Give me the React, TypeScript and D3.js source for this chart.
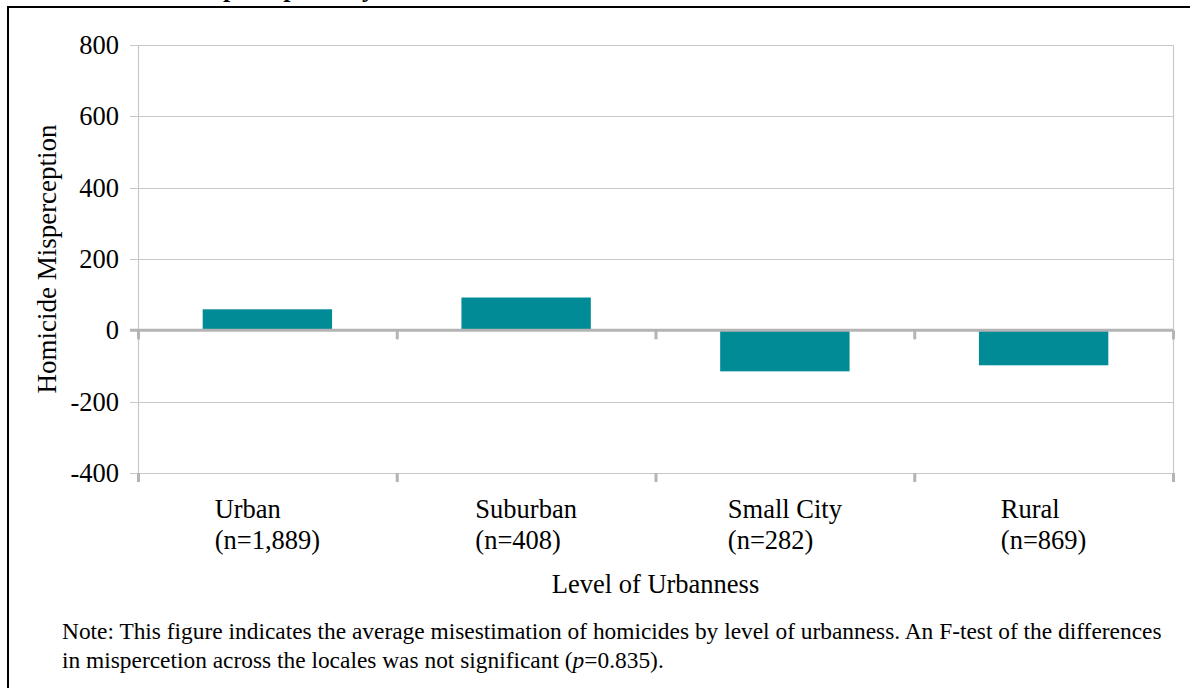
import { useEffect, useRef } from 'react'
import * as d3 from 'd3'

const categories = ['Urban', 'Suburban', 'Small City', 'Rural']
const sampleSizes = ['(n=1,889)', '(n=408)', '(n=282)', '(n=869)']
const misperception = [59, 92, -115, -98]
const yTicks = [-400, -200, 0, 200, 400, 600, 800]

const noteLines = [
  'Note: This figure indicates the average misestimation of homicides by level of urbanness. An F-test of the differences',
  'in mispercetion across the locales was not significant (',
]

const App = () => {
  const svgRef = useRef<SVGSVGElement | null>(null)

  useEffect(() => {
    if (!svgRef.current) return
    const svg = d3.select(svgRef.current)
    svg.selectAll('*').remove()

    const width = 1190
    const height = 688
    const margin = { top: 45, right: 17, bottom: 215, left: 138 }
    const font = '"Liberation Serif", "Times New Roman", serif'
    const fs = 26.5

    svg.attr('width', width).attr('height', height).attr('viewBox', `0 0 ${width} ${height}`)
    svg.append('rect').attr('width', width).attr('height', height).attr('fill', '#fff')

    // caption cut off at the top of the page (only descenders show)
    svg
      .append('text')
      .attr('x', -40)
      .attr('y', -3)
      .attr('font-family', font)
      .attr('font-weight', 'bold')
      .attr('font-size', 26)
      .text('Figure 2: Homicide Misperception by Level of Urbanness')

    // frame
    svg.append('line').attr('x1', 7).attr('x2', width).attr('y1', 7).attr('y2', 7)
      .attr('stroke', '#000').attr('stroke-width', 2)
    svg.append('line').attr('x1', 8).attr('x2', 8).attr('y1', 6).attr('y2', height)
      .attr('stroke', '#000').attr('stroke-width', 2)

    const x = d3
      .scaleBand<string>()
      .domain(categories)
      .range([margin.left, width - margin.right])
      .paddingInner(0.5)
      .paddingOuter(0.25)

    const y = d3
      .scaleLinear()
      .domain([-400, 800])
      .range([height - margin.bottom, margin.top])

    const x0 = margin.left
    const x1 = width - margin.right
    const step = (x1 - x0) / categories.length

    // gridlines
    svg
      .append('g')
      .selectAll('line')
      .data(yTicks.filter((t) => t !== 0))
      .enter()
      .append('line')
      .attr('x1', x0 - 8)
      .attr('x2', x1)
      .attr('y1', (d) => Math.round(y(d)) + 0.5)
      .attr('y2', (d) => Math.round(y(d)) + 0.5)
      .attr('stroke', '#c8c8c8')
      .attr('stroke-width', 1.2)

    // plot border (left and right)
    svg.append('line').attr('x1', x0 + 0.5).attr('x2', x0 + 0.5).attr('y1', y(800)).attr('y2', y(-400))
      .attr('stroke', '#c8c8c8').attr('stroke-width', 1.2)
    svg.append('line').attr('x1', x1 + 0.5).attr('x2', x1 + 0.5).attr('y1', y(800)).attr('y2', y(-400))
      .attr('stroke', '#c8c8c8').attr('stroke-width', 1.2)

    // bars
    svg
      .append('g')
      .selectAll('rect')
      .data(misperception)
      .enter()
      .append('rect')
      .attr('x', (_, i) => x(categories[i])!)
      .attr('width', x.bandwidth())
      .attr('y', (d) => y(Math.max(0, d)))
      .attr('height', (d) => Math.abs(y(d) - y(0)))
      .attr('fill', '#008b96')

    // zero axis line
    svg.append('line').attr('x1', x0 - 8).attr('x2', x1).attr('y1', y(0)).attr('y2', y(0))
      .attr('stroke', '#b4b4b4').attr('stroke-width', 3)

    // category boundary ticks on zero line and on the bottom
    const bounds = d3.range(categories.length + 1).map((i) => x0 + i * step)
    ;[y(0), y(-400)].forEach((yy) => {
      svg
        .append('g')
        .selectAll('line')
        .data(bounds)
        .enter()
        .append('line')
        .attr('x1', (d) => d + 0.5)
        .attr('x2', (d) => d + 0.5)
        .attr('y1', yy)
        .attr('y2', yy + 9)
        .attr('stroke', '#b4b4b4')
        .attr('stroke-width', 3)
    })

    // y tick labels
    svg
      .append('g')
      .selectAll('text')
      .data(yTicks)
      .enter()
      .append('text')
      .attr('x', x0 - 19)
      .attr('y', (d) => y(d) + 9)
      .attr('text-anchor', 'end')
      .attr('font-family', font)
      .attr('font-size', fs)
      .attr('fill', '#000')
      .text((d) => String(d))

    // category labels: two left-aligned lines, block centred on the band
    categories.forEach((c, i) => {
      const cx = x(c)! + x.bandwidth() / 2
      const g = svg.append('g')
      const t1 = g.append('text').attr('y', 518).attr('font-family', font).attr('font-size', fs).text(c)
      const t2 = g.append('text').attr('y', 549).attr('font-family', font).attr('font-size', fs).text(sampleSizes[i])
      const w = Math.max(
        (t1.node() as SVGTextElement).getComputedTextLength(),
        (t2.node() as SVGTextElement).getComputedTextLength()
      )
      t1.attr('x', cx - w / 2)
      t2.attr('x', cx - w / 2)
    })

    // axis titles
    svg
      .append('text')
      .attr('x', (x0 + x1) / 2)
      .attr('y', 593)
      .attr('text-anchor', 'middle')
      .attr('font-family', font)
      .attr('font-size', fs)
      .text('Level of Urbanness')

    svg
      .append('text')
      .attr('transform', `translate(56,${y(200)}) rotate(-90)`)
      .attr('text-anchor', 'middle')
      .attr('font-family', font)
      .attr('font-size', 27)
      .text('Homicide Misperception')

    // note
    svg
      .append('text')
      .attr('x', 62)
      .attr('y', 639)
      .attr('font-family', font)
      .attr('font-size', 23.4)
      .text(noteLines[0])

    const n2 = svg
      .append('text')
      .attr('x', 62)
      .attr('y', 668)
      .attr('font-family', font)
      .attr('font-size', 23.4)
    n2.append('tspan').text(noteLines[1])
    n2.append('tspan').attr('font-style', 'italic').text('p')
    n2.append('tspan').text('=0.835).')
  }, [])

  return (
    <svg
      ref={svgRef}
      style={{ position: 'absolute', left: 0, top: 0, display: 'block' }}
    />
  )
}

export default App
